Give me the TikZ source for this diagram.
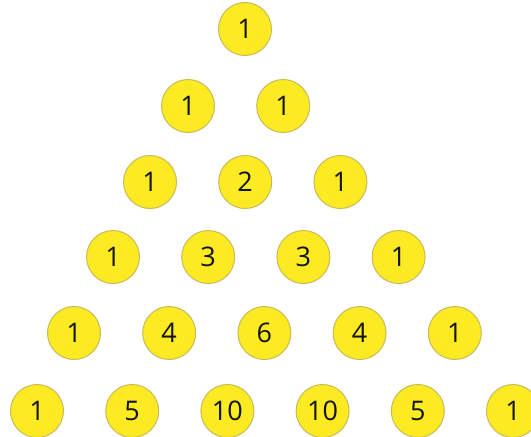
\documentclass[tikz,border=0pt]{standalone}
\usepackage{fontspec}
\setmainfont{Open Sans}
\usepackage{tikz}

\definecolor{ballfill}{RGB}{252,234,34}
\definecolor{ballline}{RGB}{200,186,92}
\definecolor{numtext}{RGB}{20,20,15}

\begin{document}
\begin{tikzpicture}[
    x=1pt, y=-1pt,
    ball/.style={circle, draw=ballline, fill=ballfill, line width=1pt, minimum size=53pt, inner sep=0pt, text=numtext, font=\fontsize{27}{27}\selectfont}
]
    \clip (0,0) rectangle (531,437);
    % row / y / first x / values
    \foreach \r/\y/\x/\vals in {0/29/245/{1}, 1/106/188/{1,1}, 2/182/150/{1,2,1}, 3/257/113/{1,3,3,1}, 4/333/74/{1,4,6,4,1}, 5/411/37/{1,5,10,10,5,1}}
        \foreach \v [count=\k from 0] in \vals
            \node[ball] (n\r\k) at (\x+95.2*\k, \y) {\v};
\end{tikzpicture}
\end{document}
